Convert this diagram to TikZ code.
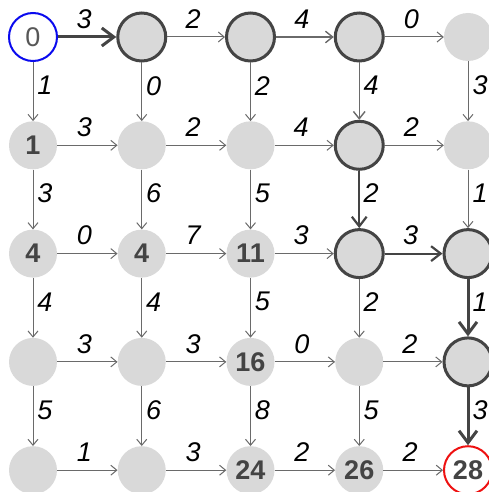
\documentclass[tikz,border=0pt]{standalone}
\usepackage{fontspec}
\setmainfont{Liberation Sans}
\usetikzlibrary{arrows.meta}
\definecolor{nodegray}{HTML}{D9D9D9}
\definecolor{ringgray}{HTML}{444444}
\definecolor{edgegray}{HTML}{6A6A6A}
\definecolor{textgray}{HTML}{444444}
\definecolor{startblue}{HTML}{0A0AEE}
\definecolor{endred}{HTML}{EE1111}
\begin{document}
\begin{tikzpicture}[x=1pt,y=-1pt,
  cell/.style={circle,minimum size=48pt,inner sep=0pt,fill=nodegray,
    text=textgray,font=\fontsize{27}{27}\selectfont\bfseries},
  ring/.style={cell,draw=ringgray,line width=3pt},
  startnode/.style={cell,fill=white,draw=startblue,line width=2pt,
    font=\fontsize{27}{27}\selectfont,text=textgray!90},
  endnode/.style={cell,fill=white,draw=endred,line width=2pt},
  e0/.style={draw=edgegray,line width=1pt,-{Straight Barb[length=3pt 3,width=6pt 4]}},
  e1/.style={e0,line width=1.4pt},
  e2/.style={e0,draw=ringgray,line width=2.2pt},
  e3/.style={e0,draw=ringgray,line width=3pt},
  hlab/.style={midway,xshift=-3pt,yshift=18pt,inner sep=0pt,
    font=\fontsize{27}{27}\selectfont\itshape},
  vlab/.style={midway,xshift=12pt,yshift=6pt,inner sep=0pt,
    font=\fontsize{27}{27}\selectfont\itshape},
]
\useasboundingbox (0,0) rectangle (489,492);
\clip (0,0) rectangle (489,492);

% grid positions: column c at x = 33 + 108.75 c, row r at y = 37 + 108.3 r
\def\px#1{33+108.75*#1}
\def\py#1{37+108.3*#1}

% row 0
\node[startnode] (n00) at ({\px0},{\py0}) {0};
\node[ring] (n01) at ({\px1},{\py0}) {};
\node[ring] (n02) at ({\px2},{\py0}) {};
\node[ring] (n03) at ({\px3},{\py0}) {};
\node[cell] (n04) at ({\px4},{\py0}) {};
% row 1
\node[cell] (n10) at ({\px0},{\py1}) {1};
\node[cell] (n11) at ({\px1},{\py1}) {};
\node[cell] (n12) at ({\px2},{\py1}) {};
\node[ring] (n13) at ({\px3},{\py1}) {};
\node[cell] (n14) at ({\px4},{\py1}) {};
% row 2
\node[cell] (n20) at ({\px0},{\py2}) {4};
\node[cell] (n21) at ({\px1},{\py2}) {4};
\node[cell] (n22) at ({\px2},{\py2}) {11};
\node[ring] (n23) at ({\px3},{\py2}) {};
\node[ring] (n24) at ({\px4},{\py2}) {};
% row 3
\node[cell] (n30) at ({\px0},{\py3}) {};
\node[cell] (n31) at ({\px1},{\py3}) {};
\node[cell] (n32) at ({\px2},{\py3}) {16};
\node[cell] (n33) at ({\px3},{\py3}) {};
\node[ring] (n34) at ({\px4},{\py3}) {};
% row 4
\node[cell] (n40) at ({\px0},{\py4}) {};
\node[cell] (n41) at ({\px1},{\py4}) {};
\node[cell] (n42) at ({\px2},{\py4}) {24};
\node[cell] (n43) at ({\px3},{\py4}) {26};
\node[endnode] (n44) at ({\px4},{\py4}) {28};

% horizontal edges: row/col/weight/style, from (r,c) to (r,c+1)
\foreach \r/\c/\w/\s in {
  0/0/3/e3, 0/1/2/e0, 0/2/4/e1, 0/3/0/e0,
  1/0/3/e0, 1/1/2/e0, 1/2/4/e0, 1/3/2/e0,
  2/0/0/e0, 2/1/7/e0, 2/2/3/e0, 2/3/3/e2,
  3/0/3/e0, 3/1/3/e0, 3/2/0/e0, 3/3/2/e0,
  4/0/1/e0, 4/1/3/e0, 4/2/2/e0, 4/3/2/e0}
  {\pgfmathtruncatemacro{\cn}{\c+1}
   \draw[\s] (n\r\c) -- node[hlab] {\w} (n\r\cn);}

% vertical edges: row/col/weight/style, from (r,c) to (r+1,c)
\foreach \r/\c/\w/\s in {
  0/0/1/e0, 1/0/3/e0, 2/0/4/e0, 3/0/5/e0,
  0/1/0/e0, 1/1/6/e0, 2/1/4/e0, 3/1/6/e0,
  0/2/2/e0, 1/2/5/e0, 2/2/5/e0, 3/2/8/e0,
  0/3/4/e1, 1/3/2/e2, 2/3/2/e0, 3/3/5/e0,
  0/4/3/e0, 1/4/1/e0, 2/4/1/e3, 3/4/3/e3}
  {\pgfmathtruncatemacro{\rn}{\r+1}
   \draw[\s] (n\r\c) -- node[vlab] {\w} (n\rn\c);}
\end{tikzpicture}
\end{document}
